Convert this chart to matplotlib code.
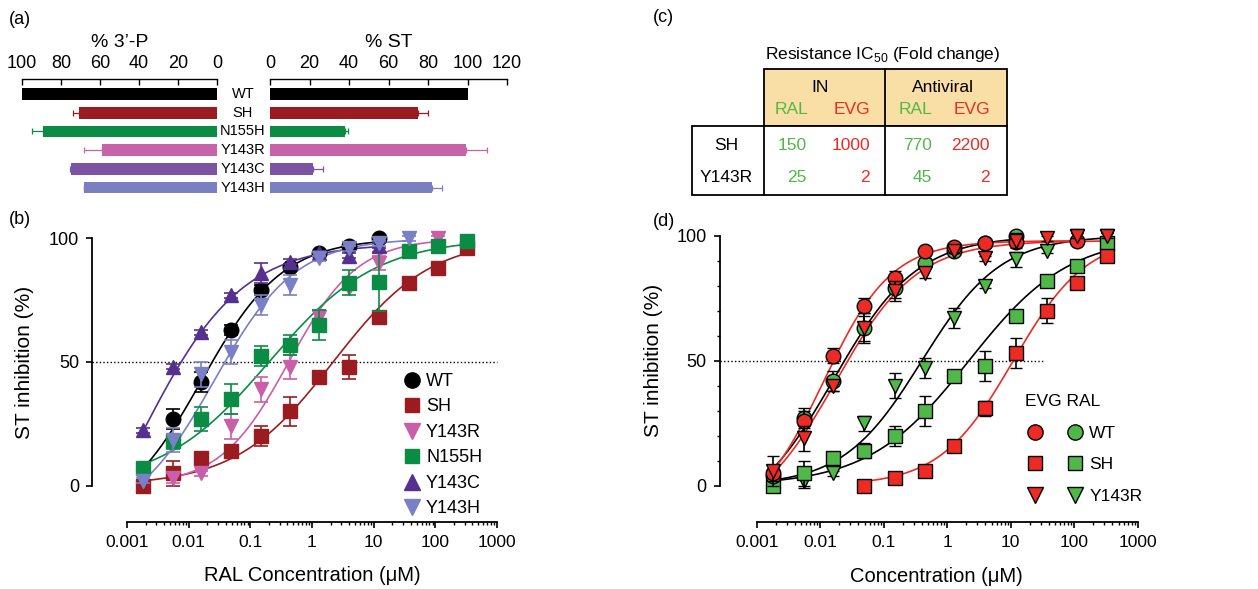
import numpy as np
import matplotlib
matplotlib.use('Agg')
import matplotlib.pyplot as plt
import matplotlib.transforms as mtransforms
from matplotlib.lines import Line2D
from matplotlib.legend_handler import HandlerTuple
from matplotlib.patches import Rectangle
from matplotlib.ticker import LogLocator, MultipleLocator, NullFormatter

plt.rcParams['font.family'] = ['Liberation Sans', 'DejaVu Sans']
plt.rcParams['mathtext.fontset'] = 'custom'
plt.rcParams['mathtext.rm'] = 'Liberation Sans'

nan = np.nan

# ---- (a) bar data
mutants = ['WT', 'SH', 'N155H', 'Y143R', 'Y143C', 'Y143H']
p3_pct = [100, 71, 89, 59, 75, 68]
p3_err = [0, 3, 6, 9, 0.5, 0.3]
st_pct = [100, 75, 38, 99, 22, 82]
st_err = [0, 5, 1.5, 11, 5, 5]
bar_colors = ['#000000', '#9b1c20', '#0a8c45', '#c663a9', '#7b55a3', '#7a7fc2']

# ---- shared concentration series (uM)
conc = [0.0018, 0.0055, 0.016, 0.049, 0.15, 0.44, 1.3, 4.0, 12, 37, 110, 330]
x_ticks = [0.001, 0.01, 0.1, 1, 10, 100, 1000]
x_ticklabels = ['0.001', '0.01', '0.1', '1', '10', '100', '1000']

# ---- (b) RAL inhibition (%)
b_wt = [nan, 27, 42, 63, 79, 88.5, 94, 97, 100, nan, nan, nan]
b_wt_err = [0, 4, 4, 2, 2, 1, 1, 1, 1, 0, 0, 0]
b_sh = [0, 5, 11, 14, 20, 30, 44, 48, 68, 82, 88, 96]
b_sh_err = [1, 5, 2, 2, 4, 6, 2, 5, 1, 1, 1, 1]
b_y143r = [nan, 3, 5, 24, 39, 48, 68, 80, 90, nan, 100, nan]
b_y143r_err = [0, 2, 1, 5, 5, 5, 3, 1, 3, 0, 1, 0]
b_n155h = [7, 18, 27, 35, 52.5, 57, 65, 82, 82.5, 95, 97, 99]
b_n155h_err = [1, 3, 5, 6, 4, 4, 6, 5, 12, 2, 1, 1]
b_y143c = [22.5, 48, 62, 77, 86, 90.5, 94, 93, 97, nan, nan, nan]
b_y143c_err = [1, 1, 1, 1, 4, 1, 1, 1, 1, 0, 0, 0]
b_y143h = [2, 18.5, 45, 54, 73, 81, 92, 96, 98, 100, nan, nan]
b_y143h_err = [1, 5, 5, 5, 4, 4, 1, 1, 1, 1, 0, 0]

# fitted curves: bottom, top, IC50, slope, x from, x to
fit_b_wt = [-15, 100, 0.0162, 0.66, 0.0018, 12]
fit_b_sh = [0, 100, 2.2, 0.55, 0.0018, 330]
fit_b_y143r = [0, 100, 0.42, 0.78, 0.0055, 110]
fit_b_n155h = [0, 100, 0.2, 0.5, 0.0018, 330]
fit_b_y143c = [-60, 98, 0.00158, 0.53, 0.0018, 12]
fit_b_y143h = [-15, 100, 0.026, 0.66, 0.0018, 37]

# ---- (d) EVG (red) vs RAL (green) inhibition (%)
evg_wt = [5, 26, 52, 72, 83, 94, 95.5, 97, 97.5, nan, 98, nan]
evg_wt_err = [3, 4, 3, 3, 3, 1, 1, 1, 1, 0, 1, 0]
ral_wt = [4, 27, 42, 63, 79, 89, 94, 97, 100, nan, nan, nan]
ral_wt_err = [1, 4, 4, 5, 4, 2, 1, 1, 1, 0, 0, 0]
evg_sh = [nan, nan, nan, 0, 3, 6, 16, 31, 53, 70, 81, 92]
evg_sh_err = [0, 0, 0, 1, 1, 1, 1, 3, 6, 5, 1, 1]
ral_sh = [0, 5, 11, 14, 20, 30, 44, 48, 68, 82, 88, 97]
ral_sh_err = [1, 5, 2, 3, 4, 6, 2, 6, 1, 1, 1, 1]
evg_y143r = [6, 19, 40, 63, 78, 85, 94, 91, 98, 99, 100, 100]
evg_y143r_err = [6, 5, 2, 6, 4, 2, 1, 1, 3, 1, 1, 1]
ral_y143r = [3, 2, 5, 25, 40, 47, 67, 80, 90.5, 94, 100, 100]
ral_y143r_err = [1, 3, 1, 3, 5, 4, 4, 1, 3, 1, 1, 1]

fit_evg_wt = [-15, 98, 0.0112, 0.81, 0.0018, 110]
fit_ral_wt = [-15, 100, 0.0162, 0.66, 0.0018, 12]
fit_evg_sh = [0, 100, 11, 0.75, 0.049, 330]
fit_ral_sh = [0, 100, 2.2, 0.55, 0.0018, 330]
fit_evg_y143r = [-15, 98, 0.0174, 0.68, 0.0018, 330]
fit_ral_y143r = [0, 100, 0.4, 0.7, 0.0018, 330]

# ---- (c) table
table_rows = ['SH', 'Y143R']
in_ral = [150, 25]
in_evg = [1000, 2]
av_ral = [770, 45]
av_evg = [2200, 2]

RAL_GREEN = '#4fb848'
EVG_RED = '#ee2a24'


def hill(x, bottom, top, ic50, n):
    return bottom + (top - bottom) / (1 + (ic50 / x) ** n)


def fit_curve(fit):
    xs = np.logspace(np.log10(fit[4]), np.log10(fit[5]), 300)
    return xs, hill(xs, *fit[:4])


W, H = 1258, 589
fig = plt.figure(figsize=(W / 100, H / 100), dpi=100)


def px_axes(x0, y0, x1, y1):
    return fig.add_axes([x0 / W, 1 - y1 / H, (x1 - x0) / W, (y1 - y0) / H])


# ================= (a)
ypos = np.arange(len(mutants))
ax_l = px_axes(22, 79, 217, 197)
ax_r = px_axes(270, 79, 507, 197)
for ax, vals, errs, lim, ticks in [(ax_l, p3_pct, p3_err, (100, 0), range(0, 101, 20)),
                                   (ax_r, st_pct, st_err, (0, 120), range(0, 121, 20))]:
    ax.barh(ypos, vals, height=0.62, color=bar_colors)
    for i in ypos:
        if errs[i] > 0:
            ax.errorbar(vals[i], i, xerr=[[0], [errs[i]]], fmt='none', ecolor=bar_colors[i],
                        elinewidth=0.9, capsize=2.5, capthick=0.9)
    ax.set_xlim(*lim)
    ax.set_ylim(5.5, -0.8)
    ax.xaxis.tick_top()
    ax.set_xticks(list(ticks))
    ax.set_yticks([])
    for s in ['left', 'right', 'bottom']:
        ax.spines[s].set_visible(False)
    ax.spines['top'].set_linewidth(1.0)
    ax.tick_params(axis='x', direction='in', length=4, width=1.0, labelsize=13, pad=5)
    ax.set_facecolor('none')

ax_l.text(0.5, 1.31, '% 3\u2019-P', transform=ax_l.transAxes, ha='center', va='center', fontsize=14)
ax_r.text(0.5, 1.31, '% ST', transform=ax_r.transAxes, ha='center', va='center', fontsize=14)
trans_mid = mtransforms.blended_transform_factory(fig.transFigure, ax_l.transData)
for i, name in enumerate(mutants):
    ax_l.text(243 / W, i, name, transform=trans_mid, ha='center', va='center',
              fontsize=10.5, clip_on=False)


def style_dose_axes(ax, left_out, minor_y):
    ax.set_xscale('log')
    ax.set_xlim(1e-3, 1e3)
    ax.set_ylim(0, 100)
    ax.spines['top'].set_visible(False)
    ax.spines['right'].set_visible(False)
    ax.spines['left'].set_position(('outward', left_out))
    ax.spines['bottom'].set_position(('outward', 26))
    ax.spines['left'].set_bounds(0, 100)
    ax.spines['left'].set_linewidth(1.3)
    ax.spines['bottom'].set_linewidth(1.3)
    ax.set_xticks(x_ticks, labels=x_ticklabels)
    ax.xaxis.set_minor_locator(LogLocator(base=10, subs=np.arange(2, 10), numticks=20))
    ax.xaxis.set_minor_formatter(NullFormatter())
    ax.set_yticks([0, 50, 100])
    if minor_y:
        ax.yaxis.set_minor_locator(MultipleLocator(10))
    else:
        ax.yaxis.set_minor_locator(MultipleLocator(1000))
    ax.tick_params(which='major', direction='out', length=4.5, width=1.2, pad=5)
    ax.tick_params(axis='x', which='major', labelsize=12.5)
    ax.tick_params(axis='y', which='major', labelsize=13)
    ax.tick_params(which='minor', direction='out', length=2.5, width=1.0)
    ax.set_ylabel('ST inhibition (%)', fontsize=15)
    ax.set_facecolor('none')


# ================= (b)
ax_b = px_axes(127, 238.3, 497, 485.7)
style_dose_axes(ax_b, 25, False)
ax_b.plot([-0.095, 1.0], [50, 50], transform=ax_b.get_yaxis_transform(), ls=(0, (1, 1.6)),
          color='black', lw=1.0, clip_on=False, zorder=1)

b_specs = [
    ('SH', b_sh, b_sh_err, fit_b_sh, '#9b1c20', 's', 9.5),
    ('Y143R', b_y143r, b_y143r_err, fit_b_y143r, '#c85fa8', 'v', 10.5),
    ('N155H', b_n155h, b_n155h_err, fit_b_n155h, '#0a8c45', 's', 9.5),
    ('WT', b_wt, b_wt_err, fit_b_wt, '#000000', 'o', 10.5),
    ('Y143C', b_y143c, b_y143c_err, fit_b_y143c, '#55308f', '^', 10.5),
    ('Y143H', b_y143h, b_y143h_err, fit_b_y143h, '#7a80c6', 'v', 10.5),
]
for k, (name, y, e, fit, col, mk, ms) in enumerate(b_specs):
    xs, ys = fit_curve(fit)
    ax_b.plot(xs, ys, color=col, lw=1.2, clip_on=False, zorder=2 + k * 0.1)
    ax_b.errorbar(conc, np.array(y, float), yerr=e, fmt=mk, ms=ms, color=col, mec=col,
                  ecolor=col, elinewidth=1.2, capsize=5, capthick=1.2, clip_on=False,
                  zorder=3 + k * 0.1)

legend_order = ['WT', 'SH', 'Y143R', 'N155H', 'Y143C', 'Y143H']
spec_by_name = {s[0]: s for s in b_specs}
b_handles = [Line2D([], [], ls='none', marker=spec_by_name[n][5], ms=spec_by_name[n][6] + 0.5,
                    color=spec_by_name[n][4]) for n in legend_order]
ax_b.legend(b_handles, legend_order, loc='upper left', bbox_to_anchor=(405 / W, 1 - 373 / H),
            bbox_transform=fig.transFigure, frameon=False, fontsize=13, borderpad=0,
            borderaxespad=0, handlelength=0.75, handletextpad=0.42, labelspacing=0.47)
ax_b.set_xlabel('RAL Concentration (\u03bcM)', fontsize=14.5)
ax_b.xaxis.set_label_coords(0.5, -0.325)
ax_b.yaxis.set_label_coords(-0.25, 0.5)

# ================= (d)
ax_d = px_axes(756.7, 235.7, 1137.7, 485.7)
style_dose_axes(ax_d, 26.5, True)
trans_d = mtransforms.blended_transform_factory(ax_d.transAxes, ax_d.transData)
ax_d.plot([-0.096, np.log10(35 / 1e-3) / 6], [50, 50], transform=trans_d, ls=(0, (1, 1.6)),
          color='black', lw=1.0, clip_on=False, zorder=1)

d_specs = [
    (ral_y143r, ral_y143r_err, fit_ral_y143r, RAL_GREEN, 'black', 'v', 10.5),
    (ral_sh, ral_sh_err, fit_ral_sh, RAL_GREEN, 'black', 's', 9.5),
    (ral_wt, ral_wt_err, fit_ral_wt, RAL_GREEN, 'black', 'o', 10.5),
    (evg_sh, evg_sh_err, fit_evg_sh, EVG_RED, EVG_RED, 's', 9.5),
    (evg_wt, evg_wt_err, fit_evg_wt, EVG_RED, EVG_RED, 'o', 10.5),
    (evg_y143r, evg_y143r_err, fit_evg_y143r, EVG_RED, EVG_RED, 'v', 10.5),
]
for k, (y, e, fit, fc, lc, mk, ms) in enumerate(d_specs):
    xs, ys = fit_curve(fit)
    ax_d.plot(xs, ys, color=lc, lw=1.2, clip_on=False, zorder=2 + k * 0.1)
for k, (y, e, fit, fc, lc, mk, ms) in enumerate(d_specs):
    ax_d.errorbar(conc, np.array(y, float), yerr=e, fmt=mk, ms=ms, mfc=fc, mec='black',
                  mew=1.0, ecolor='black', elinewidth=1.2, capsize=4.5, capthick=1.2,
                  clip_on=False, zorder=3 + k * 0.1)

d_names = ['WT', 'SH', 'Y143R']
d_marks = ['o', 's', 'v']
d_handles = []
for mk in d_marks:
    ms = 10 if mk == 's' else 11
    d_handles.append((Line2D([], [], ls='none', marker=mk, ms=ms, mfc=EVG_RED, mec='black', mew=1.0),
                      Line2D([], [], ls='none', marker=mk, ms=ms, mfc=RAL_GREEN, mec='black', mew=1.0)))
leg_d = ax_d.legend(d_handles, d_names, handler_map={tuple: HandlerTuple(ndivide=None, pad=1.15)},
                    loc='upper left', bbox_to_anchor=(1025 / W, 1 - 394 / H),
                    bbox_transform=fig.transFigure, frameon=False, fontsize=12.5, borderpad=0,
                    borderaxespad=0, handlelength=3.45, handletextpad=0.25, labelspacing=0.95,
                    title='EVG RAL', title_fontsize=12.5, alignment='left')
ax_d.set_xlabel('Concentration (\u03bcM)', fontsize=14.5)
ax_d.xaxis.set_label_coords(0.472, -0.325)
ax_d.yaxis.set_label_coords(-0.245, 0.5)

# ================= (c) table, drawn on a full-figure pixel overlay
ax_c = fig.add_axes([0, 0, 1, 1])
ax_c.set_xlim(0, W)
ax_c.set_ylim(H, 0)
ax_c.axis('off')
ax_c.add_patch(Rectangle((764, 69), 243, 57, facecolor='#f9dfa5', edgecolor='black', lw=1.3))
ax_c.add_patch(Rectangle((692, 126), 315, 69, facecolor='white', edgecolor='black', lw=1.3))
ax_c.plot([885, 885], [69, 195], color='black', lw=1.3)
ax_c.plot([764, 764], [126, 195], color='black', lw=1.3)
ax_c.text(883, 55, 'Resistance IC$_{50}$ (Fold change)', ha='center', va='center', fontsize=12.5)
ax_c.text(820, 87, 'IN', ha='center', va='center', fontsize=12.5)
ax_c.text(943, 87, 'Antiviral', ha='center', va='center', fontsize=12.5)
for xc, lab, col in [(792, 'RAL', RAL_GREEN), (852, 'EVG', EVG_RED),
                     (916, 'RAL', RAL_GREEN), (972, 'EVG', EVG_RED)]:
    ax_c.text(xc, 110, lab, ha='center', va='center', fontsize=12.5, color=col)
row_y = [146, 177]
for i, name in enumerate(table_rows):
    ax_c.text(726, row_y[i], name, ha='center', va='center', fontsize=12.5)
    ax_c.text(807, row_y[i], str(in_ral[i]), ha='right', va='center', fontsize=12.5, color=RAL_GREEN)
    ax_c.text(870, row_y[i], str(in_evg[i]), ha='right', va='center', fontsize=12.5, color=EVG_RED)
    ax_c.text(932, row_y[i], str(av_ral[i]), ha='right', va='center', fontsize=12.5, color=RAL_GREEN)
    ax_c.text(990, row_y[i], str(av_evg[i]), ha='right', va='center', fontsize=12.5, color=EVG_RED)

# panel letters
for xl, yl, lab in [(9, 20, '(a)'), (9, 220, '(b)'), (653, 18, '(c)'), (653, 221, '(d)')]:
    ax_c.text(xl, yl, lab, ha='left', va='center', fontsize=13)

fig.savefig('out.png', dpi=100)
